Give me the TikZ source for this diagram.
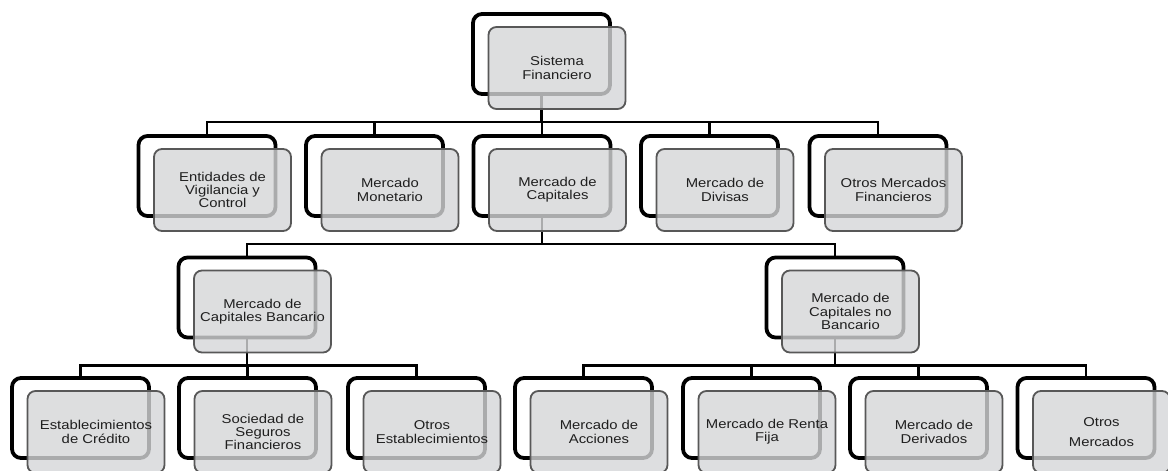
\documentclass[tikz,border=0pt]{standalone}
\usepackage{fontspec}
\setmainfont{Liberation Sans}[FakeStretch=1.16]
\usetikzlibrary{backgrounds}

\definecolor{boxgray}{RGB}{213,214,216}
\definecolor{edgegray}{RGB}{88,88,88}

\tikzset{
  backbox/.style={draw=black, line width=3.8pt, rounded corners=9pt, fill=white,
    minimum width=137pt, minimum height=80pt},
  frontbox/.style={draw=edgegray, line width=1.8pt, rounded corners=8pt, fill=boxgray,
    fill opacity=0.8, text opacity=1, minimum width=137pt, minimum height=82pt,
    align=center, text=black!88, font=\fontsize{12.8}{13.3}\selectfont},
  conn/.style={line width=2.8pt}
}

\begin{document}
\begin{tikzpicture}[x=1pt,y=-1pt]
      \useasboundingbox (0,0) rectangle (1168,471);
      \clip (0,0) rectangle (1168,471);
      % back boxes
      \node[backbox] (sis-b) at (541.5,54) {};
      \node[backbox] (ent-b) at (207,176) {};
      \node[backbox] (mon-b) at (374.5,176) {};
      \node[backbox] (cap-b) at (542,176) {};
      \node[backbox] (div-b) at (709.5,176) {};
      \node[backbox] (otr-b) at (878,176) {};
      \node[backbox] (ban-b) at (247,297.5) {};
      \node[backbox] (noban-b) at (835,297.5) {};
      \node[backbox] (est-b) at (80.5,418) {};
      \node[backbox] (soc-b) at (247.5,418) {};
      \node[backbox] (oes-b) at (416.5,418) {};
      \node[backbox] (acc-b) at (583.5,418) {};
      \node[backbox] (ren-b) at (751.5,418) {};
      \node[backbox] (der-b) at (918.5,418) {};
      \node[backbox] (omer-b) at (1086,418) {};
      % front boxes
      \node[frontbox] (sis) at ([shift={(15.5,14)}]sis-b) {Sistema\\Financiero};
      \node[frontbox] (ent) at ([shift={(15.5,14)}]ent-b) {Entidades de\\Vigilancia y\\Control};
      \node[frontbox] (mon) at ([shift={(15.5,14)}]mon-b) {Mercado\\Monetario};
      \node[frontbox] (cap) at ([shift={(15.5,14)}]cap-b) {Mercado de\\Capitales};
      \node[frontbox] (div) at ([shift={(15.5,14)}]div-b) {Mercado de\\Divisas};
      \node[frontbox] (otr) at ([shift={(15.5,14)}]otr-b) {Otros Mercados\\Financieros};
      \node[frontbox] (ban) at ([shift={(15.5,14)}]ban-b) {Mercado de\\Capitales Bancario};
      \node[frontbox] (noban) at ([shift={(15.5,14)}]noban-b) {Mercado de\\Capitales no\\Bancario};
      \node[frontbox] (est) at ([shift={(15.5,14)}]est-b) {Establecimientos\\de Crédito};
      \node[frontbox] (soc) at ([shift={(15.5,14)}]soc-b) {Sociedad de\\Seguros\\Financieros};
      \node[frontbox] (oes) at ([shift={(15.5,14)}]oes-b) {Otros\\Establecimientos};
      \node[frontbox] (acc) at ([shift={(15.5,14)}]acc-b) {Mercado de\\Acciones};
      \node[frontbox] (ren) at ([shift={(15.5,14)}]ren-b) {Mercado de Renta\\Fija};
      \node[frontbox] (der) at ([shift={(15.5,14)}]der-b) {Mercado de\\Derivados};
      \node[frontbox] (omer) at ([shift={(15.5,14)}]omer-b) {Otros\\[6.5pt]Mercados};
      % connectors, behind the boxes
      \begin{pgfonlayer}{background}
      \coordinate (bus1) at (0,122);
      \coordinate (bus2) at (0,244);
      \coordinate (bus3) at (0,365.5);
      \draw[conn] (sis-b.south) -- (sis-b.south |- bus1);
      \draw[conn] (ent-b.north) |- (otr-b.north |- bus1) -- (otr-b.north);
      \foreach \n in {mon,cap,div}
        \draw[conn] (\n-b.north) -- (\n-b.north |- bus1);
      \draw[conn] (cap-b.south) -- (cap-b.south |- bus2);
      \draw[conn] (ban-b.north) |- (noban-b.north |- bus2) -- (noban-b.north);
      \draw[conn] (ban-b.south) -- (ban-b.south |- bus3);
      \draw[conn] (est-b.north) |- (oes-b.north |- bus3) -- (oes-b.north);
      \draw[conn] (soc-b.north) -- (soc-b.north |- bus3);
      \draw[conn] (noban-b.south) -- (noban-b.south |- bus3);
      \draw[conn] (acc-b.north) |- (omer-b.north |- bus3) -- (omer-b.north);
      \foreach \n in {ren,der}
        \draw[conn] (\n-b.north) -- (\n-b.north |- bus3);
      \end{pgfonlayer}
    \end{tikzpicture}
\end{document}
